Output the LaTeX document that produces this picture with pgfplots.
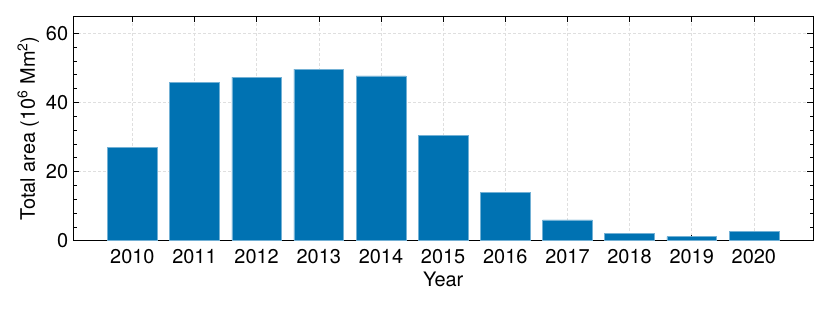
\documentclass[border=0pt]{standalone}
\usepackage{fontspec}
\setmainfont{TeX Gyre Heros}
\usepackage{pgfplots}
\pgfplotsset{compat=1.18}
\definecolor{barblue}{RGB}{0,114,178}
\newcommand{\bigf}{\fontsize{20}{23}\selectfont}
\begin{document}
\begin{tikzpicture}[font=\bigf]
\begin{axis}[
  scale only axis,
  width=739.7bp, height=224.7bp,
  xmin=2009.05, xmax=2020.95,
  ymin=0, ymax=65,
  xtick={2010,...,2020},
  ytick={0,20,40,60},
  minor y tick num=4,
  x tick label style={/pgf/number format/1000 sep={}},
  /pgf/number format/assume math mode=true,
  tick label style={font=\bigf},
  label style={font=\bigf},
  tick align=inside,
  xtick pos=both, ytick pos=both,
  major tick length=6bp, minor tick length=3.5bp,
  tick style={black, line width=0.6bp},
  axis line style={black, line width=0.8bp},
  grid=major,
  major grid style={gray!25, dash pattern=on 2.5bp off 2.5bp, line width=0.5bp},
  yticklabel style={anchor=east, inner sep=0pt, xshift=-5bp},
  xticklabel style={anchor=base, inner sep=0pt, yshift=-22.6bp},
  xlabel={Year},
  ylabel={Total area (10\textsuperscript{6} Mm\textsuperscript{2})},
  xlabel style={at={(axis description cs:0.5,-0.206)}, anchor=base, inner sep=0pt},
  ylabel style={at={(axis description cs:-0.0518,0.5)}, anchor=base, inner sep=0pt},
]
\addplot[ybar, bar width=0.8, fill=barblue, draw=barblue!55!white, line width=0.6bp]
coordinates {
(2010,27.0) (2011,45.8) (2012,47.3) (2013,49.6) (2014,47.7) (2015,30.5)
(2016,14.0) (2017,6.0) (2018,2.2) (2019,1.2) (2020,2.6)
};
\end{axis}
\pgfresetboundingbox
\path[use as bounding box] (-73.3bp,-71.3bp) rectangle (756.7bp,240.7bp);
\end{tikzpicture}
\end{document}
